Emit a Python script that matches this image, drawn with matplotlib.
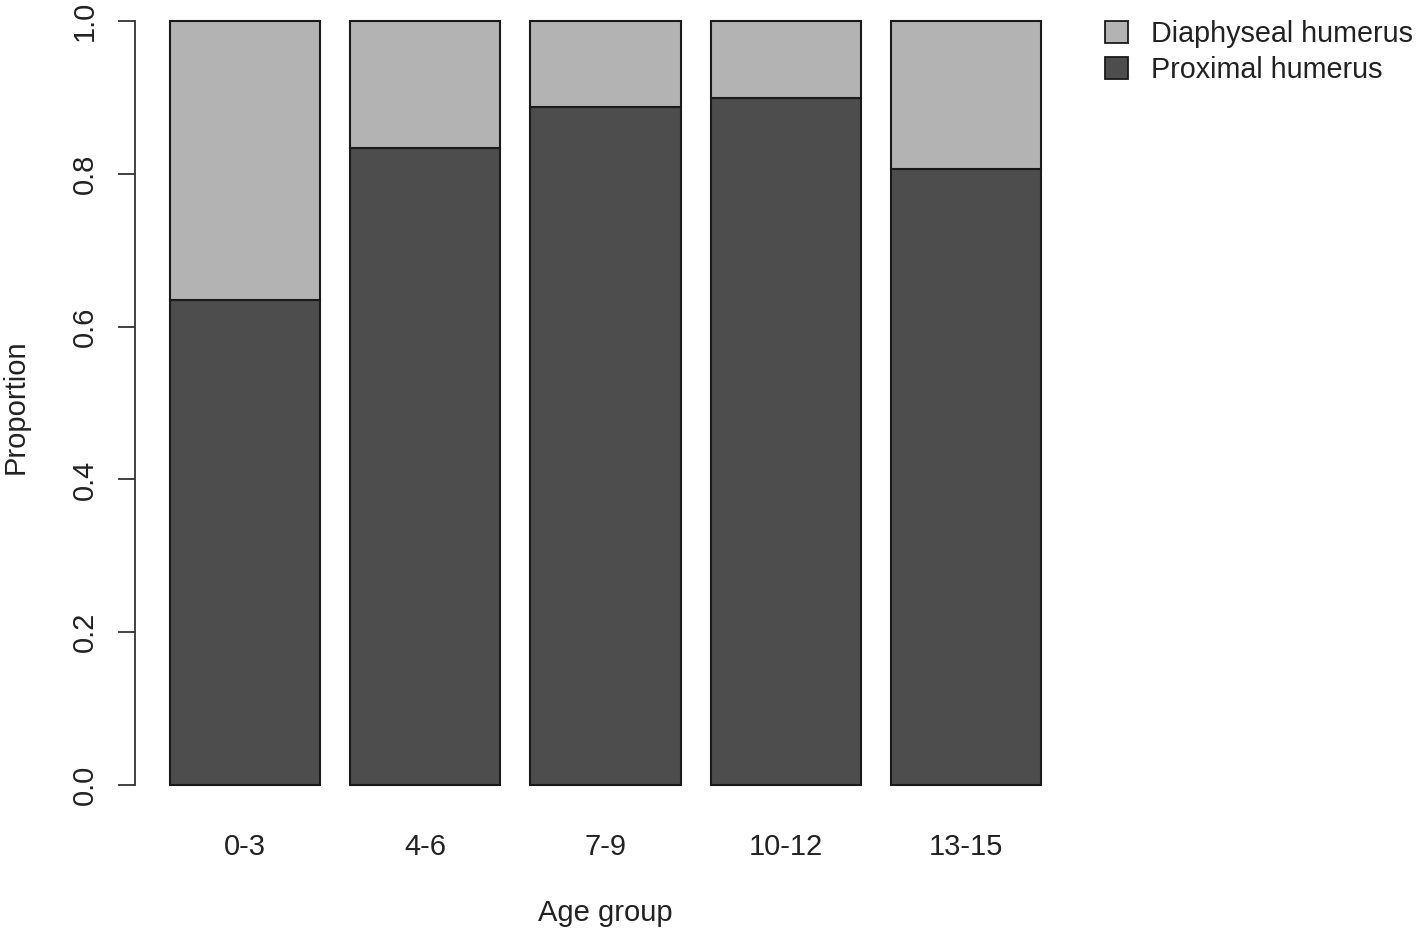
import matplotlib
matplotlib.use('Agg')
import matplotlib.pyplot as plt
import numpy as np

plt.rcParams['font.family'] = ['Liberation Sans', 'DejaVu Sans']

age_groups = ['0-3', '4-6', '7-9', '10-12', '13-15']
proximal = [0.635, 0.834, 0.887, 0.899, 0.806]
diaphyseal = [1 - p for p in proximal]
series_names = ['Diaphyseal humerus', 'Proximal humerus']

W, H = 1416, 934
fig = plt.figure(figsize=(W / 100, H / 100), dpi=100)
ax = fig.add_axes([135 / W, (H - 815.6) / H, (1076 - 135) / W, 815.6 / H])

x = 0.7 + 1.2 * np.arange(len(age_groups))
dark = '#4d4d4d'
light = '#b3b3b3'
ax.bar(x, proximal, width=1, color=dark, edgecolor='#1a1a1a', linewidth=1.5)
ax.bar(x, diaphyseal, width=1, bottom=proximal, color=light, edgecolor='#1a1a1a', linewidth=1.5)

ax.set_xlim(-0.033, 6.233)
ax.set_ylim(-0.04, 1.0275)

for s in ['top', 'right', 'bottom']:
    ax.spines[s].set_visible(False)
ax.spines['left'].set_bounds(0, 1)
ax.spines['left'].set_linewidth(1.3)
ax.spines['left'].set_color('#333333')

fs = 21
ax.set_yticks(np.arange(0, 1.01, 0.2))
ax.set_yticklabels(['%.1f' % v for v in np.arange(0, 1.01, 0.2)], rotation=90, va='center')
ax.tick_params(axis='y', length=12, width=1.3, color='#333333', pad=14, labelsize=fs, labelcolor='#222222')
ax.set_xticks(x)
ax.set_xticklabels(age_groups)
ax.tick_params(axis='x', length=0, pad=12.5, labelsize=fs, labelcolor='#222222')

ax.set_xlabel('Age group', fontsize=fs, color='#222222', va='center')
ax.xaxis.set_label_coords((605 - 135) / (1076 - 135), -(913 - 815.6) / 815.6)
ax.set_ylabel('Proportion', fontsize=fs, color='#222222', va='center')
ax.yaxis.set_label_coords(-(135 - 16) / (1076 - 135), (815.6 - 407) / 815.6)

handles = [plt.Rectangle((0, 0), 1, 1, facecolor=light, edgecolor='#1a1a1a', linewidth=1.3),
           plt.Rectangle((0, 0), 1, 1, facecolor=dark, edgecolor='#1a1a1a', linewidth=1.3)]
fig.legend(handles, series_names, loc='upper left', bbox_to_anchor=(1105 / W, 1 - 20 / H),
           frameon=False, borderpad=0, borderaxespad=0, fontsize=20.7, handlelength=0.8,
           handleheight=0.8, handletextpad=0.8, labelspacing=0.28, labelcolor='#222222')

fig.savefig('out.png', dpi=100)
